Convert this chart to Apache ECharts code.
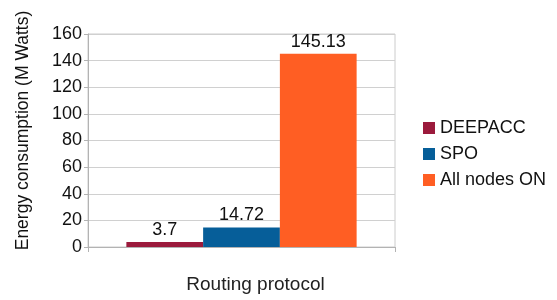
<!DOCTYPE html>
<html>
<head>
<meta charset="utf-8">
<script src="https://cdn.jsdelivr.net/npm/echarts@6/dist/echarts.min.js"></script>
<style>
  html, body { margin: 0; padding: 0; background: #fff; }
  #main { width: 557px; height: 300px; }
</style>
</head>
<body>
<div id="main"></div>
<script>
const categories = [""];
const seriesNames = ["DEEPACC", "SPO", "All nodes ON"];
const seriesValues = [[3.7], [14.72], [145.13]];
const seriesColors = ["#9b1a3c", "#065e99", "#ff5e23"];

const chart = echarts.init(document.getElementById("main"));
chart.setOption({
  animation: false,
  textStyle: { fontFamily: "Liberation Sans" },
  grid: {
    left: 88, right: 162, top: 34, bottom: 53,
    show: true, borderColor: "#cccccc", borderWidth: 1
  },
  legend: {
    orient: "vertical",
    left: 418, top: 114,
    itemWidth: 12, itemHeight: 12, itemGap: 8,
    icon: "rect",
    textStyle: { fontSize: 18, color: "#111" },
    data: seriesNames
  },
  xAxis: {
    type: "category",
    data: categories,
    name: "Routing protocol",
    nameLocation: "middle",
    nameGap: 28,
    nameTextStyle: { fontSize: 19, color: "#222", padding: [0, 0, 0, 28] },
    axisLine: { lineStyle: { color: "#b3b3b3" } },
    axisTick: { show: true, length: 5, lineStyle: { color: "#b3b3b3" } },
    axisLabel: { show: false }
  },
  yAxis: {
    type: "value",
    min: 0, max: 160, interval: 20,
    name: "Energy consumption (M Watts)",
    nameLocation: "middle",
    nameGap: 56,
    nameTextStyle: { fontSize: 17.5, color: "#111", padding: [0, 0, 0, 20] },
    axisLine: { show: true, lineStyle: { color: "#b3b3b3" } },
    axisTick: { show: true, length: 4, lineStyle: { color: "#b3b3b3" } },
    axisLabel: { fontSize: 18, color: "#111", margin: 6 },
    splitLine: { lineStyle: { color: "#d0d0d0" } }
  },
  series: seriesNames.map((name, i) => ({
    name: name,
    type: "bar",
    data: seriesValues[i],
    barGap: "0%",
    barCategoryGap: "25%",
    itemStyle: { color: seriesColors[i] },
    label: {
      show: true, position: "top", distance: 3,
      fontSize: 18, color: "#111"
    }
  }))
});
</script>
</body>
</html>
